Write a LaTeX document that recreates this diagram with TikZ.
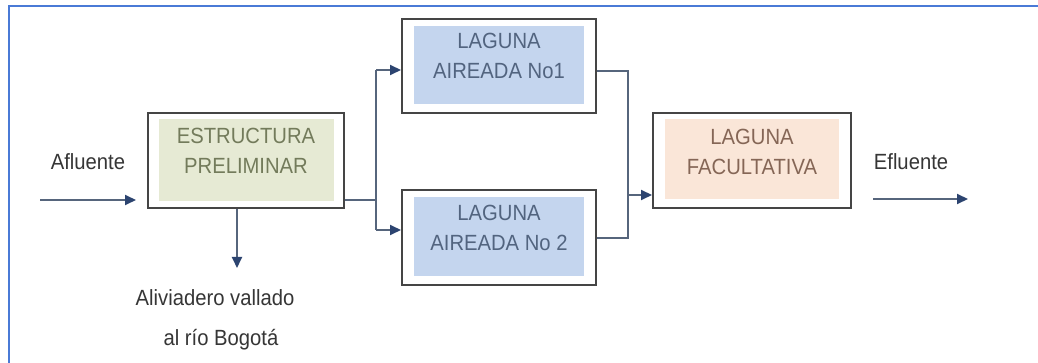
\documentclass[tikz,border=0pt]{standalone}
\usepackage{fontspec}
\setmainfont{Liberation Sans}[FakeStretch=0.92]
\usetikzlibrary{arrows.meta,calc}
\definecolor{framec}{HTML}{4A7AD6}
\definecolor{boxline}{HTML}{454545}
\definecolor{esfill}{HTML}{E6EAD4}
\definecolor{estext}{HTML}{737B5B}
\definecolor{lfill}{HTML}{C4D5EE}
\definecolor{ltext}{HTML}{52647F}
\definecolor{fafill}{HTML}{FAE6D8}
\definecolor{fatext}{HTML}{856656}
\definecolor{conn}{HTML}{56657C}
\definecolor{tipc}{HTML}{2C4470}
\definecolor{labc}{HTML}{363636}
\begin{document}
\begin{tikzpicture}[x=1pt,y=-1pt,
  procbox/.style={draw=boxline,line width=2pt,fill=white,minimum width=#1,minimum height=95pt,inner sep=0pt},
  boxtext/.style={font=\fontsize{22}{30}\selectfont,align=center,inner sep=0pt},
  lab/.style={font=\fontsize{22}{30}\selectfont,text=labc,inner sep=0pt},
  wire/.style={draw=conn,line width=1.6pt},
  arr/.style={draw=conn,line width=1.9pt,-{Triangle[length=11pt,width=10pt,fill=tipc,color=tipc]}},
  frameline/.style={draw=framec,line width=2pt}]
\useasboundingbox (0,0) rectangle (1038,363);
\fill[white] (0,0) rectangle (1038,363);
\draw[frameline] (8.5,363) -- (8.5,6) -- (1038,6);

% boxes
\node[procbox=196pt] (es) at (246,160.5) {};
\node[procbox=194pt,minimum height=94pt] (l1) at (499,66) {};
\node[procbox=194pt] (l2) at (499,237.5) {};
\node[procbox=198pt] (fa) at (752,160.5) {};

% inner fills
\fill[esfill] ([shift={(12,7)}]es.north west) rectangle ([shift={(-11,-8)}]es.south east);
\fill[lfill] ([shift={(13,8)}]l1.north west) rectangle ([shift={(-13,-10)}]l1.south east);
\fill[lfill] ([shift={(13,8)}]l2.north west) rectangle ([shift={(-13,-10)}]l2.south east);
\fill[fafill] ([shift={(13,7)}]fa.north west) rectangle ([shift={(-13,-10)}]fa.south east);

% box texts
\node[boxtext,text=estext] (est) at ([yshift=9.5pt]es.center) {ESTRUCTURA\\PRELIMINAR};
\node[boxtext,text=ltext] (l1t) at ([yshift=10pt]l1.center) {LAGUNA\\AIREADA No1};
\node[boxtext,text=ltext] (l2t) at ([yshift=10pt]l2.center) {LAGUNA\\AIREADA No 2};
\node[boxtext,text=fatext] (fat) at ([yshift=9pt]fa.center) {LAGUNA\\FACULTATIVA};

% labels
\node[lab] (afl) at (88,162) {Afluente};
\node[lab] (efl) at (911,162) {Efluente};
\node[lab] (ali1) at (215,298) {Aliviadero vallado};
\node[lab] (ali2) at (221,340) {al río Bogotá};

% coordinates
\coordinate (ain) at (40,200);
\coordinate (aout) at (136,200);
\coordinate (dn) at (237,268);
\coordinate (sp) at (376,200);
\coordinate (y70) at (0,70);
\coordinate (y230) at (0,230);
\coordinate (mg) at (628,0);
\coordinate (y71) at (0,71);
\coordinate (y238) at (0,238);
\coordinate (y195) at (0,195);
\coordinate (ein) at (873,199);
\coordinate (eout) at (968,199);

% connectors
\draw[arr] (ain) -- (aout);
\draw[arr] (es.south -| dn) -- (dn);
\draw[wire] (es.east |- sp) -- (sp);
\draw[wire] (sp |- y70) -- (sp |- y230);
\draw[arr] (sp |- y70) -- (l1.west |- y70);
\draw[arr] (sp |- y230) -- (l2.west |- y230);
\draw[wire] (l1.east |- y71) -- (mg |- y71) -- (mg |- y238) -- (l2.east |- y238);
\draw[arr] (mg |- y195) -- (fa.west |- y195);
\draw[arr] (ein) -- (eout);
\end{tikzpicture}
\end{document}
